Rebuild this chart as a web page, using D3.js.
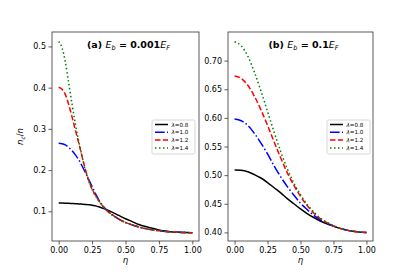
<!DOCTYPE html>
<html><head><meta charset="utf-8">
<script src="https://cdn.jsdelivr.net/npm/d3@7"></script>
<style>body{margin:0;background:#fff}svg{display:block}text{font-family:"DejaVu Sans",sans-serif}</style>
</head><body><svg id="c" width="415" height="272"></svg>
<script>
// ---- data ----
const etaA = [0,0.025,0.05,0.075,0.1,0.125,0.15,0.175,0.2,0.225,0.25,0.275,0.3,0.35,0.4,0.45,0.5,0.55,0.6,0.65,0.7,0.75,0.8,0.85,0.9,0.95,1.0];
const blackA = [0.120,0.1199,0.1197,0.1194,0.119,0.1186,0.118,0.1174,0.1167,0.1159,0.115,0.1132,0.111,0.105,0.098,0.090,0.082,0.075,0.068,0.063,0.059,0.055,0.052,0.050,0.049,0.0485,0.048];
const blueA  = [0.265,0.264,0.261,0.255,0.247,0.237,0.225,0.210,0.194,0.177,0.160,0.143,0.128,0.106,0.092,0.081,0.073,0.067,0.062,0.058,0.055,0.053,0.051,0.050,0.049,0.0485,0.048];
const redA   = [0.401,0.396,0.383,0.359,0.329,0.297,0.266,0.233,0.201,0.175,0.154,0.139,0.126,0.105,0.092,0.081,0.073,0.067,0.062,0.058,0.055,0.053,0.051,0.050,0.049,0.0485,0.048];
const greenA = [0.512,0.497,0.462,0.411,0.360,0.312,0.270,0.233,0.199,0.173,0.153,0.138,0.125,0.105,0.091,0.081,0.073,0.067,0.062,0.058,0.055,0.053,0.051,0.050,0.049,0.0485,0.048];

const etaB = [0,0.05,0.1,0.15,0.2,0.25,0.3,0.35,0.4,0.45,0.5,0.55,0.6,0.65,0.7,0.75,0.8,0.85,0.9,0.95,1.0];
const blackB = [0.509,0.5085,0.506,0.501,0.495,0.487,0.478,0.469,0.459,0.450,0.441,0.433,0.426,0.420,0.415,0.411,0.407,0.404,0.402,0.4005,0.400];
const blueB  = [0.598,0.595,0.587,0.573,0.556,0.537,0.516,0.497,0.480,0.465,0.451,0.440,0.430,0.422,0.416,0.411,0.407,0.404,0.402,0.4005,0.400];
const redB   = [0.673,0.669,0.657,0.638,0.614,0.587,0.558,0.530,0.504,0.482,0.463,0.447,0.434,0.424,0.417,0.411,0.407,0.404,0.402,0.4005,0.400];
const greenB = [0.733,0.726,0.708,0.680,0.647,0.611,0.575,0.541,0.511,0.486,0.466,0.449,0.436,0.425,0.418,0.412,0.407,0.404,0.402,0.4005,0.400];

const lambdas = ["0.8","1.0","1.2","1.4"];
const xTicks = [0,0.25,0.5,0.75,1.0];
const yTicksA = [0.1,0.2,0.3,0.4,0.5];
const yTicksB = [0.40,0.45,0.50,0.55,0.60,0.65,0.70];

// ---- styles ----
const styles = [
  {color:"#000000", dash:null},
  {color:"#0000ff", dash:"9.6,2.4,1.5,2.4"},
  {color:"#ff0000", dash:"5.5,2.4"},
  {color:"#008000", dash:"1.5,2.5"}
];

const svg = d3.select("#c");

function panel(cfg){
  const x = d3.scaleLinear().domain([-0.05,1.05]).range([cfg.x0,cfg.x1]);
  const y = d3.scaleLinear().domain(cfg.yDom).range([cfg.y1,cfg.y0]);
  const g = svg.append("g");
  const line = d3.line().x(d=>x(d[0])).y(d=>y(d[1])).curve(d3.curveMonotoneX);
  cfg.series.forEach((s,i)=>{
    g.append("path").datum(cfg.eta.map((e,k)=>[e,s[k]]))
      .attr("d",line).attr("fill","none")
      .attr("stroke",styles[i].color).attr("stroke-width",1.5)
      .attr("stroke-dasharray",styles[i].dash);
  });
  g.append("rect").attr("x",cfg.x0).attr("y",cfg.y0).attr("width",cfg.x1-cfg.x0).attr("height",cfg.y1-cfg.y0)
    .attr("fill","none").attr("stroke","#333").attr("stroke-width",0.8);
  const xa = g.append("g").attr("transform",`translate(0,${cfg.y1})`)
    .call(d3.axisBottom(x).tickValues(xTicks).tickFormat(d3.format(".2f")).tickSize(3.5).tickPadding(2.5));
  const ya = g.append("g").attr("transform",`translate(${cfg.x0},0)`)
    .call(d3.axisLeft(y).tickValues(cfg.yTicks).tickFormat(d3.format(cfg.yFmt)).tickSize(3.5).tickPadding(2.5));
  [xa,ya].forEach(a=>{
    a.select(".domain").remove();
    a.selectAll("line").attr("stroke","#333").attr("stroke-width",0.8);
    a.selectAll("text").attr("font-size",8).attr("fill","#000").attr("font-family","DejaVu Sans");
  });
  g.append("text").attr("x",(cfg.x0+cfg.x1)/2).attr("y",263).attr("text-anchor","middle")
    .attr("font-size",8.5).attr("font-style","italic").text("η");
  const t = g.append("text").attr("x",(cfg.x0+cfg.x1)/2+3).attr("y",48).attr("text-anchor","middle")
    .attr("font-size",9.5).attr("font-weight","bold");
  t.append("tspan").text(cfg.tag+" ");
  t.append("tspan").attr("font-style","italic").attr("font-weight","normal").text("E");
  t.append("tspan").attr("font-style","italic").attr("font-weight","normal").attr("font-size",6.5).attr("dy",2).text("b");
  t.append("tspan").attr("dy",-2).text(" = "+cfg.val);
  t.append("tspan").attr("font-style","italic").attr("font-weight","normal").text("E");
  t.append("tspan").attr("font-style","italic").attr("font-weight","normal").attr("font-size",6.5).attr("dy",2).text("F");
  const L = g.append("g").attr("transform",`translate(${cfg.lx},${cfg.ly})`);
  L.append("rect").attr("x",0).attr("y",0).attr("width",43).attr("height",34).attr("rx",1.5)
    .attr("fill","#fff").attr("fill-opacity",0.8).attr("stroke","#ccc").attr("stroke-width",0.8);
  lambdas.forEach((l,i)=>{
    const yy = 4.5+i*7.8;
    L.append("line").attr("x1",3).attr("x2",16).attr("y1",yy).attr("y2",yy)
      .attr("stroke",styles[i].color).attr("stroke-width",1.5).attr("stroke-dasharray",styles[i].dash);
    const tx = L.append("text").attr("x",19.5).attr("y",yy+2).attr("font-size",5.6);
    tx.append("tspan").attr("font-style","italic").text("λ");
    tx.append("tspan").text("=" + l);
  });
}

panel({x0:52,x1:199,y0:32,y1:241,yDom:[0.028,0.535],yTicks:yTicksA,yFmt:".1f",eta:etaA,
  series:[blackA,blueA,redA,greenA],tag:"(a)",val:"0.001",lx:152,ly:120});
panel({x0:228,x1:373,y0:32,y1:241,yDom:[0.385,0.750],yTicks:yTicksB,yFmt:".2f",eta:etaB,
  series:[blackB,blueB,redB,greenB],tag:"(b)",val:"0.1",lx:327,ly:120});

const yl = svg.append("text").attr("transform","translate(23,136.5) rotate(-90)")
  .attr("text-anchor","middle").attr("font-size",8.5);
yl.append("tspan").attr("font-style","italic").text("n");
yl.append("tspan").attr("font-style","italic").attr("font-size",6).attr("dy",1.8).text("c");
yl.append("tspan").attr("dy",-1.8).text("/");
yl.append("tspan").attr("font-style","italic").text("n");
</script></body></html>
